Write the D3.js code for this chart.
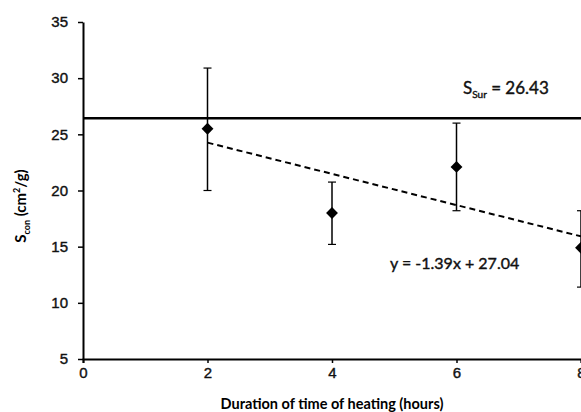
<!DOCTYPE html>
<html>
<head>
<meta charset="utf-8">
<script src="https://cdn.jsdelivr.net/npm/d3@7"></script>
<style>
  body { margin: 0; background: #fff; }
  svg { display: block; font-family: Lato, "Open Sans", sans-serif; }
</style>
</head>
<body>
<div id="chart"></div>
<script>
// data
var hours = [2, 4, 6, 8];
var sCon = [25.5, 18.0, 22.1, 14.9];
var errTop = [30.9, 20.75, 26.0, 18.2];
var errBottom = [20.0, 15.2, 18.2, 11.4];
var xTicks = [0, 2, 4, 6, 8];
var yTicks = [5, 10, 15, 20, 25, 30, 35];
var sSur = 26.43;
var slope = -1.39;
var intercept = 27.04;

var width = 581, height = 412;
var margin = { top: 22, right: 0, bottom: 53, left: 83 };

var svg = d3.select("#chart").append("svg")
  .attr("width", width)
  .attr("height", height);

var x = d3.scaleLinear().domain([0, 8]).range([margin.left, width - margin.right]);
var y = d3.scaleLinear().domain([5, 35]).range([height - margin.bottom, margin.top]);

// x axis
var xAxis = svg.append("g")
  .attr("transform", "translate(0," + y(5) + ")")
  .call(d3.axisBottom(x).tickValues(xTicks).tickSize(4).tickPadding(4).tickFormat(d3.format("d")));
xAxis.select(".domain").attr("stroke-width", 2);
xAxis.selectAll(".tick line").attr("stroke-width", 1.5);
xAxis.selectAll("text")
  .style("font-size", "15px").attr("fill", "#111")
  .attr("stroke", "#111").attr("stroke-width", 0.4);

// y axis
var yAxis = svg.append("g")
  .attr("transform", "translate(" + x(0) + ",0)")
  .call(d3.axisLeft(y).tickValues(yTicks).tickSize(5).tickPadding(10).tickSizeOuter(0));
yAxis.select(".domain").attr("stroke-width", 2);
yAxis.selectAll(".tick line").attr("stroke-width", 1.5);
yAxis.selectAll("text")
  .style("font-size", "15px").attr("fill", "#111")
  .attr("stroke", "#111").attr("stroke-width", 0.4);

// axis titles
svg.append("text")
  .attr("x", (x(0) + x(8)) / 2)
  .attr("y", 409)
  .attr("text-anchor", "middle")
  .style("font-size", "14.5px")
  .style("font-weight", "bold")
  .text("Duration of time of heating (hours)");

var yTitle = svg.append("text")
  .attr("transform", "translate(26," + 206 + ") rotate(-90)")
  .attr("text-anchor", "middle")
  .style("font-size", "15px")
  .style("font-weight", "bold");
yTitle.append("tspan").text("S");
yTitle.append("tspan").attr("dy", 4).style("font-size", "9px").text("con");
yTitle.append("tspan").attr("dy", -4).text(" (cm");
yTitle.append("tspan").attr("dy", -6).style("font-size", "9px").text("2");
yTitle.append("tspan").attr("dy", 6).text("/g)");

// S_sur reference line
svg.append("line")
  .attr("x1", x(0)).attr("x2", x(8))
  .attr("y1", y(sSur)).attr("y2", y(sSur))
  .attr("stroke", "#000")
  .attr("stroke-width", 2.5);

var sLabel = svg.append("text")
  .attr("x", 463)
  .attr("y", 94)
  .style("font-size", "17px")
  .attr("fill", "#111").attr("stroke", "#111").attr("stroke-width", 0.4);
sLabel.append("tspan").text("S");
sLabel.append("tspan").attr("dy", 4).style("font-size", "10px").text("Sur");
sLabel.append("tspan").attr("dy", -4).text(" = " + sSur.toFixed(2));

// trend line
svg.append("line")
  .attr("x1", x(2)).attr("x2", x(8))
  .attr("y1", y(slope * 2 + intercept))
  .attr("y2", y(slope * 8 + intercept))
  .attr("stroke", "#000")
  .attr("stroke-width", 2)
  .attr("stroke-dasharray", "6,4");

svg.append("text")
  .attr("x", 390)
  .attr("y", 269)
  .style("font-size", "16px")
  .attr("fill", "#111").attr("stroke", "#111").attr("stroke-width", 0.4)
  .text("y = " + slope + "x + " + intercept.toFixed(2));

// error bars
var bars = svg.append("g").selectAll("g")
  .data(hours)
  .enter()
  .append("g");

bars.append("line")
  .attr("x1", function(d) { return x(d); })
  .attr("x2", function(d) { return x(d); })
  .attr("y1", function(d, i) { return y(errTop[i]); })
  .attr("y2", function(d, i) { return y(errBottom[i]); })
  .attr("stroke", "#000")
  .attr("stroke-width", 1.5);

[errTop, errBottom].forEach(function(arr) {
  bars.append("line")
    .attr("x1", function(d) { return x(d) - 4; })
    .attr("x2", function(d) { return x(d) + 4; })
    .attr("y1", function(d, i) { return y(arr[i]); })
    .attr("y2", function(d, i) { return y(arr[i]); })
    .attr("stroke", "#000")
    .attr("stroke-width", 1.2);
});

// diamonds
svg.append("g").selectAll("path")
  .data(hours)
  .enter()
  .append("path")
  .attr("transform", function(d, i) { return "translate(" + x(d) + "," + y(sCon[i]) + ")"; })
  .attr("d", d3.symbol().type(d3.symbolDiamond2).size(90))
  .attr("fill", "#000");
</script>
</body>
</html>
